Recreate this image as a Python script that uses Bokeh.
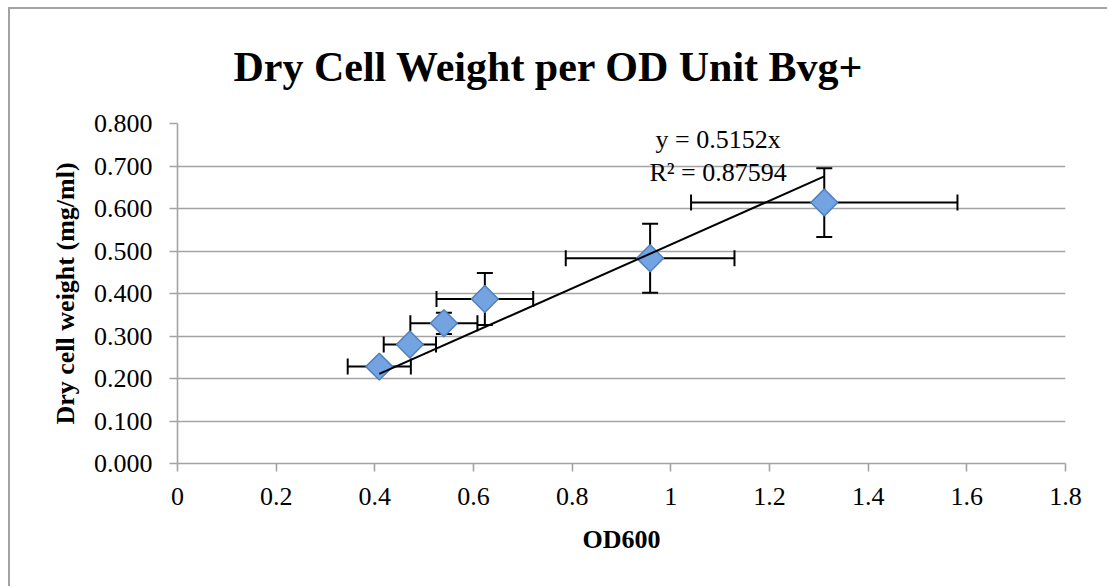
import numpy as np
from bokeh.plotting import figure
from bokeh.models import (ColumnDataSource, Whisker, TeeHead, Label, Range1d,
                          FixedTicker)
from bokeh.embed import file_html
from bokeh.resources import INLINE

# ---- data ----
od600 = [0.409, 0.471, 0.540, 0.623, 0.958, 1.311]
od600_err = [0.064, 0.053, 0.068, 0.098, 0.171, 0.270]
dcw = [0.228, 0.280, 0.330, 0.387, 0.483, 0.614]
dcw_err = [0.010, 0.010, 0.025, 0.061, 0.081, 0.081]
slope = 0.5152
r_squared = 0.87594

x_ticks = [0, 0.2, 0.4, 0.6, 0.8, 1.0, 1.2, 1.4, 1.6, 1.8]
x_tick_labels = ["0", "0.2", "0.4", "0.6", "0.8", "1", "1.2", "1.4", "1.6", "1.8"]
y_ticks = [0, 0.1, 0.2, 0.3, 0.4, 0.5, 0.6, 0.7, 0.8]
y_tick_labels = ["0.000", "0.100", "0.200", "0.300", "0.400", "0.500",
                 "0.600", "0.700", "0.800"]

title_text = "Dry Cell Weight per OD Unit Bvg+"
x_label = "OD600"
y_label = "Dry cell weight (mg/ml)"

FONT = "Liberation Serif"
GRAY = "#a3a3a3"

x = np.array(od600)
y = np.array(dcw)
xe = np.array(od600_err)
ye = np.array(dcw_err)

src = ColumnDataSource(dict(x=x, y=y, xl=x - xe, xu=x + xe, yl=y - ye, yu=y + ye))

p = figure(width=1099, height=579, output_backend="svg", toolbar_location=None,
           x_range=Range1d(0, 1.8), y_range=Range1d(0, 0.8),
           min_border_left=167, min_border_right=44,
           min_border_top=114, min_border_bottom=125,
           styles={"margin-left": "8px", "margin-top": "7px",
                   "border-left": f"2px solid {GRAY}",
                   "border-top": f"2px solid {GRAY}"})
p.outline_line_color = None
p.background_fill_color = "white"
p.border_fill_color = "white"

# title
p.title.text = title_text
p.title.text_font = FONT
p.title.text_font_size = "42px"
p.title.text_font_style = "bold"
p.title.text_color = "black"
p.title.align = "left"
p.title.vertical_align = "top"
p.title.offset = 56
p.title.standoff = 64

# grid
p.xgrid.grid_line_color = None
p.ygrid.grid_line_color = GRAY
p.ygrid.grid_line_width = 1.6

# axes
p.xaxis.ticker = FixedTicker(ticks=x_ticks)
p.xaxis.major_label_overrides = {t: l for t, l in zip(x_ticks, x_tick_labels)}
p.yaxis.ticker = FixedTicker(ticks=y_ticks)
p.yaxis.major_label_overrides = {t: l for t, l in zip(y_ticks, y_tick_labels)}
for ax in (p.xaxis[0], p.yaxis[0]):
    ax.axis_line_color = GRAY
    ax.axis_line_width = 1.6
    ax.major_tick_line_color = GRAY
    ax.major_tick_line_width = 1.6
    ax.major_tick_out = 8
    ax.major_tick_in = 0
    ax.minor_tick_line_color = None
    ax.major_label_text_font = FONT
    ax.major_label_text_font_size = "26px"
    ax.major_label_text_color = "black"
    ax.axis_label_text_font = FONT
    ax.axis_label_text_font_size = "26px"
    ax.axis_label_text_font_style = "bold"
    ax.axis_label_text_color = "black"
p.xaxis.axis_label = x_label
p.yaxis.axis_label = y_label
p.xaxis.major_label_standoff = 16
p.yaxis.major_label_standoff = 17
p.xaxis.axis_label_standoff = 17
p.yaxis.axis_label_standoff = 11

# error bars
wx = Whisker(source=src, base="y", lower="xl", upper="xu", dimension="width",
             line_color="black", line_width=2,
             upper_head=TeeHead(size=16, line_color="black", line_width=2),
             lower_head=TeeHead(size=16, line_color="black", line_width=2),
             level="underlay")
wy = Whisker(source=src, base="x", lower="yl", upper="yu", dimension="height",
             line_color="black", line_width=2,
             upper_head=TeeHead(size=16, line_color="black", line_width=2),
             lower_head=TeeHead(size=16, line_color="black", line_width=2),
             level="underlay")
p.add_layout(wx)
p.add_layout(wy)

# markers (diamonds)
p.scatter("x", "y", source=src, marker="square", size=19, angle=np.pi / 4,
          fill_color="#74a3e2", line_color="#4f81bd", line_width=1.5)

# trendline y = slope * x
tx = np.array([x.min(), x.max()])
p.line(tx, slope * tx, line_color="black", line_width=2)

# trendline equation
p.add_layout(Label(x=1.0957, y=0.763, text=f"y = {slope}x", text_align="center",
                   text_baseline="alphabetic", text_font=FONT,
                   text_font_size="26px", text_color="black"))
p.add_layout(Label(x=1.0957, y=0.685, text=f"R\u00b2 = {r_squared}",
                   text_align="center", text_baseline="alphabetic",
                   text_font=FONT, text_font_size="26px", text_color="black"))

open("out.html", "w").write(file_html(p, INLINE))
